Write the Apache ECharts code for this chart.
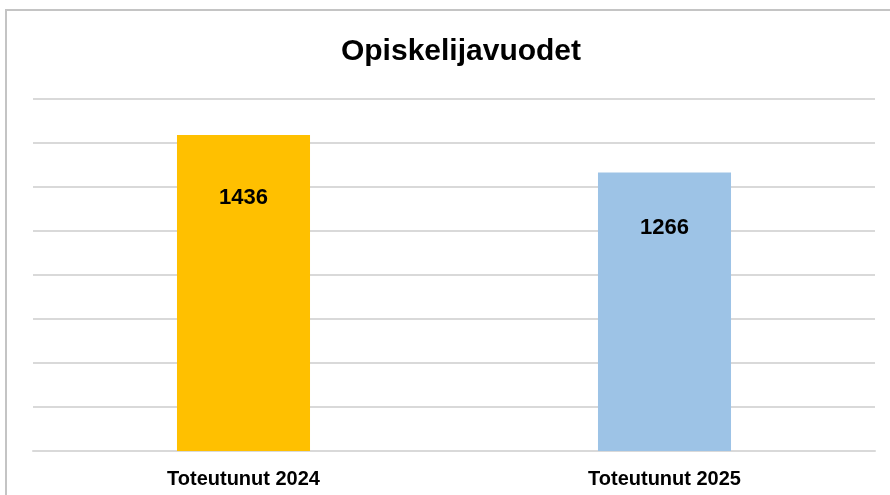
<!DOCTYPE html>
<html>
<head>
<meta charset="utf-8">
<script src="https://cdn.jsdelivr.net/npm/echarts@6/dist/echarts.min.js"></script>
<style>
  html, body { margin: 0; padding: 0; background: #fff; }
  #chart { width: 890px; height: 495px; }
</style>
</head>
<body>
<div id="chart"></div>
<script>
// data
var categories = ['Toteutunut 2024', 'Toteutunut 2025'];
var values = [1436, 1266];
var barColors = ['#FFC000', '#9DC3E6'];

var myChart = echarts.init(document.getElementById('chart'));

var option = {
    backgroundColor: '#fff',
    animation: false,
    title: {
        text: 'Opiskelijavuodet',
        left: 456,
        textAlign: 'center',
        top: 32,
        textStyle: {
            fontFamily: 'Liberation Sans',
            fontWeight: 'bold',
            fontSize: 30,
            color: '#000'
        }
    },
    // chart frame
    graphic: [{
        type: 'rect',
        shape: { x: 6, y: 10, width: 900, height: 500 },
        style: { fill: 'none', stroke: '#c4c4c4', lineWidth: 2 },
        silent: true
    }],
    grid: { left: 33, right: 15, top: 99, bottom: 44 },
    xAxis: {
        type: 'category',
        data: categories,
        axisLine: { show: true, lineStyle: { color: '#d9d9d9', width: 2 } },
        axisTick: { show: false },
        axisLabel: {
            margin: 18,
            fontFamily: 'Liberation Sans',
            fontWeight: 'bold',
            fontSize: 20,
            color: '#000'
        }
    },
    yAxis: {
        type: 'value',
        min: 0,
        max: 1600,
        interval: 200,
        axisLabel: { show: false },
        axisLine: { show: false },
        axisTick: { show: false },
        splitLine: { lineStyle: { color: '#d9d9d9', width: 2 } }
    },
    series: [{
        type: 'bar',
        barWidth: '31.6%',
        data: values.map(function (v, i) {
            return { value: v, itemStyle: { color: barColors[i] } };
        }),
        label: {
            show: true,
            position: ['50%', '20%'],
            align: 'center',
            verticalAlign: 'middle',
            fontFamily: 'Liberation Sans',
            fontWeight: 'bold',
            fontSize: 22,
            color: '#000'
        }
    }]
};

myChart.setOption(option);
</script>
</body>
</html>
